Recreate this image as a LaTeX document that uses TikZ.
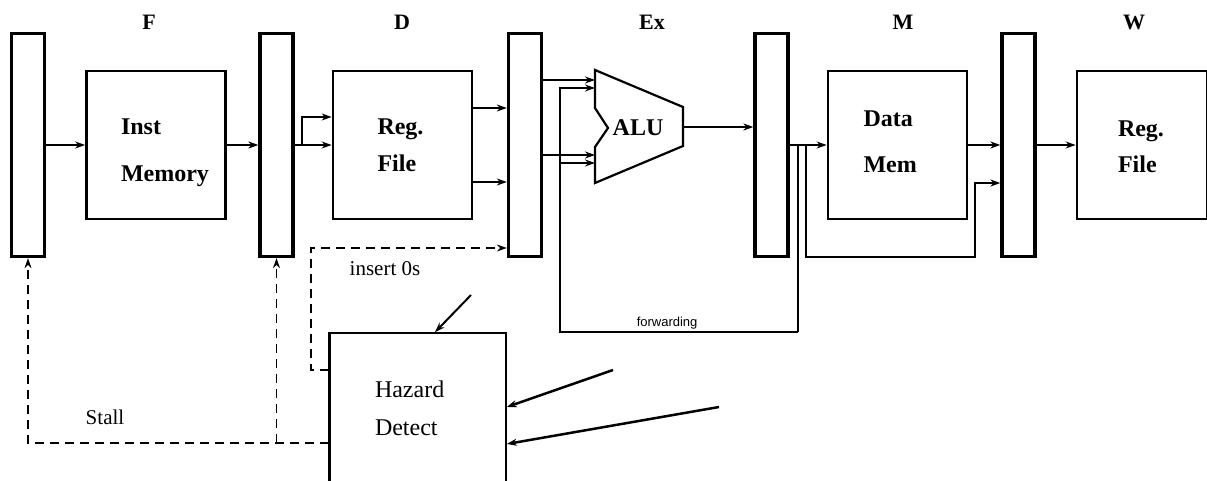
\documentclass[tikz,border=0pt]{standalone}
\usepackage{fontspec}
\setmainfont{Liberation Serif}
\newfontfamily\fwdfont{Liberation Sans}
\usetikzlibrary{arrows.meta,positioning}

\begin{document}
\begin{tikzpicture}[
  x=1pt, y=-1pt,
  reg/.style={draw, fill=white, line width=3.3pt, minimum width=33pt,
              minimum height=223pt, inner sep=0pt},
  unit/.style={draw, line width=2.7pt, minimum width=139pt, minimum height=148pt,
               align=left, inner sep=0pt, text height=20pt, font=\bfseries},
  stage/.style={font=\bfseries\fontsize{22}{24}\selectfont},
  lbl/.style={font=\fontsize{21}{24}\selectfont},
  fwdlbl/.style={font=\fwdfont\fontsize{13}{14}\selectfont, inner sep=2pt},
  arr/.style={-{Stealth[length=10pt,width=7pt]}, line width=2.5pt},
  arrthin/.style={-{Stealth[length=10pt,width=7pt]}, line width=1.5pt},
  stall/.style={-{Stealth[length=10pt,width=7pt]}, dash pattern=on 9pt off 6pt,
                line width=2.3pt},
  node distance=39pt
]
\useasboundingbox (0,0) rectangle (1207,481);

% pipeline registers and units
\node[reg] (r1) at (28,145) {};
\node[unit, right=39pt of r1, text width=70pt, text depth=40pt,
      font=\bfseries\fontsize{24}{47}\selectfont] (imem) {Inst\\Memory};
\node[reg] (r2) at (276.5,145) {};
\node[unit, right=37pt of r2, text width=50pt, text depth=40pt,
      font=\bfseries\fontsize{24}{37}\selectfont] (rfd) {Reg.\\File};
\node[reg] (r3) at (525,145) {};
\node[reg] (r4) at (771.5,145) {};
\node[unit, right=37pt of r4, text width=68pt, text depth=56pt,
      font=\bfseries\fontsize{24}{46}\selectfont] (dmem) {Data\\Mem};
\node[reg] (r5) at (1018.5,145) {};
\node[unit, minimum width=130pt, right=39pt of r5, text width=48pt, text depth=36pt,
      font=\bfseries\fontsize{24}{36}\selectfont] (rfw) {Reg.\\File};

% stage names
\node[stage] (hf) at (149,22) {F};
\node[stage] (hd) at (402,22) {D};
\node[stage] (hx) at (652,22) {Ex};
\node[stage] (hm) at (903,22) {M};
\node[stage] (hw) at (1134,22) {W};

% ALU
\coordinate (alu-in1) at (595,80);
\coordinate (alu-in2) at (595,88);
\coordinate (alu-in3) at (595,155);
\coordinate (alu-in4) at (595,163);
\coordinate (alu-out) at (683,127);
\draw[line width=2.2pt] (595,70) -- (683,107) -- (683,146) -- (595,183)
  -- (595,147) -- (608,128) -- (595,108) -- cycle;
\node[font=\bfseries\fontsize{24}{26}\selectfont] (alu) at (638,128) {ALU};

% hazard unit
\node[draw, line width=1.6pt, minimum width=176pt, minimum height=170pt,
      inner sep=0pt, align=left, text width=86pt, text height=20pt, text depth=62pt,
      font=\fontsize{24}{38}\selectfont] (hazard) at (418,418) {Hazard\\Detect};
\draw[line width=3pt] (hazard.north west) -- (hazard.south west);

% datapath
\draw[arr] (r1) -- (imem);
\draw[arr] (imem) -- (r2);
\draw[arr] (r2) -- (rfd);
\coordinate (dsplit) at (302,145);
\draw[arrthin] (dsplit) |- ([yshift=28pt]rfd.west);
\draw[arr] ([yshift=37pt]rfd.east) -- ([yshift=37pt]rfd.east -| r3.west);
\draw[arrthin] ([yshift=-37pt]rfd.east) -- ([yshift=-37pt]rfd.east -| r3.west);
\draw[arrthin] (r3.east |- alu-in1) -- (alu-in1);
\draw[arr] (r3.east |- alu-in3) -- (alu-in3);
\draw[arr] (alu-out) -- (alu-out -| r4.west);
\draw[arr] (r4) -- (dmem);
\draw[arr] (dmem) -- (r5);
\draw[arr] (r5) -- (rfw);

% forwarding
\coordinate (fwd) at (798,145);
\coordinate (fwd-bl) at (560,332);
\draw[line width=2.5pt] (fwd) -- (fwd |- fwd-bl);
\draw[arr, line width=1.8pt] (fwd |- fwd-bl) -- node[fwdlbl, above, pos=0.55]{forwarding}
  (fwd-bl) |- (alu-in2);
\draw[arrthin] (fwd-bl |- alu-in4) -- (alu-in4);

% memory bypass
\coordinate (mbypass) at (806,145);
\coordinate (mturn) at (975,257);
\draw[arr] (mbypass) |- (mturn) |- ([yshift=-38pt]r5.west);

% stall and bubble
\draw[stall] ([yshift=-25pt]hazard.west) -| (r1.south);
\coordinate (stall-split) at (276.5,443);
\draw[stall, line width=1.5pt] (stall-split) -- (r2.south);
\draw[stall, line width=1.5pt] ([yshift=48pt]hazard.west) -- ++(-18,0)
  |- ([yshift=-103pt]r3.west);
\node[lbl] (ins) at (385,269) {insert 0s};
\node[lbl] (stl) at (105,417) {Stall};

% hazard inputs
\coordinate (hz-src1) at (471,295);
\coordinate (hz-src2) at (613,370);
\coordinate (hz-src3) at (719,407);
\draw[arr, line width=2pt] (hz-src1) -- ([xshift=17pt]hazard.north);
\draw[arr] (hz-src2) -- ([yshift=11pt]hazard.east);
\draw[arr] (hz-src3) -- ([yshift=-26pt]hazard.east);
\end{tikzpicture}
\end{document}
